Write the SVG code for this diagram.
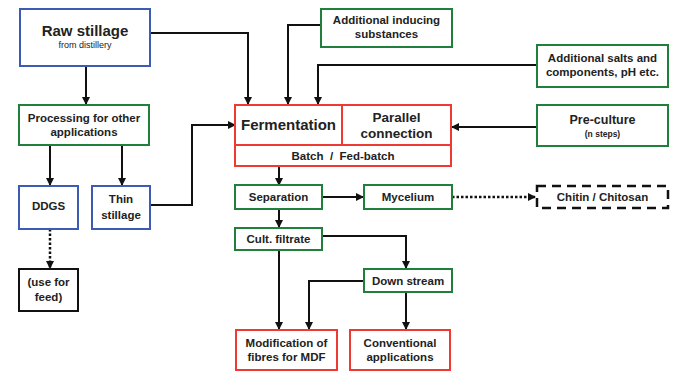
<svg xmlns="http://www.w3.org/2000/svg" width="684" height="372" viewBox="0 0 684 372">
<defs>
<marker id="ah" markerWidth="8" markerHeight="8" refX="7" refY="4" orient="auto" markerUnits="userSpaceOnUse">
<path d="M0,0 L8,4 L0,8 Z" fill="#111"/>
</marker>
<style>
.box{fill:#fff;stroke-width:2}
.blue{stroke:#3c5bb2}
.green{stroke:#1f7f3b}
.red{stroke:#ee3a32}
.black{stroke:#111}
.dash{stroke:#111;stroke-dasharray:9 6;stroke-width:2.5}
.t{font-family:"Liberation Sans",Arial,sans-serif;font-weight:bold;fill:#222;text-anchor:middle;font-size:11.5px}
.c{fill:none;stroke:#111;stroke-width:2}
.dot{stroke-dasharray:2.5 2;stroke-width:2.5}
</style>
</defs>
<rect width="684" height="372" fill="#fff"/>
<g id="connectors">
<path class="c" d="M86,66 V104" marker-end="url(#ah)"/>
<path class="c" d="M50,145 V185" marker-end="url(#ah)"/>
<path class="c" d="M122,145 V185" marker-end="url(#ah)"/>
<path class="c dot" d="M50,229 V268" marker-end="url(#ah)"/>
<path class="c" d="M150,205 H192 V125 H235" marker-end="url(#ah)"/>
<path class="c" d="M150,33 H248 V104" marker-end="url(#ah)"/>
<path class="c" d="M321,25 H288 V104" marker-end="url(#ah)"/>
<path class="c" d="M537,65 H318 V104" marker-end="url(#ah)"/>
<path class="c" d="M537,127 H452" marker-end="url(#ah)"/>
<path class="c" d="M279,166 V185" marker-end="url(#ah)"/>
<path class="c" d="M322,197 H363" marker-end="url(#ah)"/>
<path class="c dot" d="M452,197 H535" marker-end="url(#ah)"/>
<path class="c" d="M279,209 V227" marker-end="url(#ah)"/>
<path class="c" d="M279,250 V329" marker-end="url(#ah)"/>
<path class="c" d="M322,236 H406 V268" marker-end="url(#ah)"/>
<path class="c" d="M364,281 H309 V329" marker-end="url(#ah)"/>
<path class="c" d="M406,292 V329" marker-end="url(#ah)"/>
</g>
<g id="raw">
<rect class="box blue" x="20" y="9" width="130" height="57"/>
<text class="t" x="85" y="36" style="font-size:15px">Raw stillage</text>
<text class="t" x="85" y="48" style="font-size:9px;font-weight:normal">from distillery</text>
</g>
<g id="processing">
<rect class="box green" x="19" y="105" width="130" height="40"/>
<text class="t" x="84" y="122">Processing for other</text>
<text class="t" x="84" y="136">applications</text>
</g>
<g id="ddgs">
<rect class="box blue" x="19" y="186" width="59" height="43"/>
<text class="t" x="48.5" y="210">DDGS</text>
</g>
<g id="thin">
<rect class="box blue" x="92" y="186" width="58" height="43"/>
<text class="t" x="121" y="203">Thin</text>
<text class="t" x="121" y="219">stillage</text>
</g>
<g id="feed">
<rect class="box black" x="19" y="269" width="59" height="42"/>
<text class="t" x="48.5" y="286">(use for</text>
<text class="t" x="48.5" y="301">feed)</text>
</g>
<g id="fermentation">
<rect class="box red" x="235" y="105" width="216" height="61"/>
<line class="red" x1="342" y1="105" x2="342" y2="145" stroke-width="2"/>
<line class="red" x1="235" y1="145" x2="451" y2="145" stroke-width="2"/>
<text class="t" x="288.5" y="130" style="font-size:15px">Fermentation</text>
<text class="t" x="396.5" y="122" style="font-size:13.5px">Parallel</text>
<text class="t" x="396.5" y="138" style="font-size:13.5px">connection</text>
<text class="t" x="343" y="160" xml:space="preserve">Batch  /  Fed-batch</text>
</g>
<g id="inducing">
<rect class="box green" x="321" y="9" width="131" height="38"/>
<text class="t" x="386.5" y="24">Additional inducing</text>
<text class="t" x="386.5" y="38">substances</text>
</g>
<g id="salts">
<rect class="box green" x="537" y="45" width="131" height="42"/>
<text class="t" x="602.5" y="62">Additional salts and</text>
<text class="t" x="602.5" y="76">components, pH etc.</text>
</g>
<g id="preculture">
<rect class="box green" x="537" y="105" width="131" height="41"/>
<text class="t" x="602.5" y="124" style="font-size:12.5px">Pre-culture</text>
<text class="t" x="602.5" y="137" style="font-size:8.5px">(n steps)</text>
</g>
<g id="separation">
<rect class="box green" x="235" y="185" width="87" height="24"/>
<text class="t" x="278.5" y="201">Separation</text>
</g>
<g id="mycelium">
<rect class="box green" x="364" y="185" width="88" height="24"/>
<text class="t" x="408" y="201">Mycelium</text>
</g>
<g id="chitin">
<rect x="537" y="186" width="131" height="22" fill="#fff" class="dash"/>
<text class="t" x="602.5" y="201">Chitin / Chitosan</text>
</g>
<g id="filtrate">
<rect class="box green" x="235" y="228" width="87" height="22"/>
<text class="t" x="278.5" y="243">Cult. filtrate</text>
</g>
<g id="downstream">
<rect class="box green" x="364" y="269" width="88" height="23"/>
<text class="t" x="408" y="284.5">Down stream</text>
</g>
<g id="mdf">
<rect class="box red" x="236" y="330" width="101" height="40"/>
<text class="t" x="286.5" y="347">Modification of</text>
<text class="t" x="286.5" y="361">fibres for MDF</text>
</g>
<g id="conventional">
<rect class="box red" x="350" y="330" width="100" height="40"/>
<text class="t" x="400" y="347">Conventional</text>
<text class="t" x="400" y="361">applications</text>
</g>
</svg>
